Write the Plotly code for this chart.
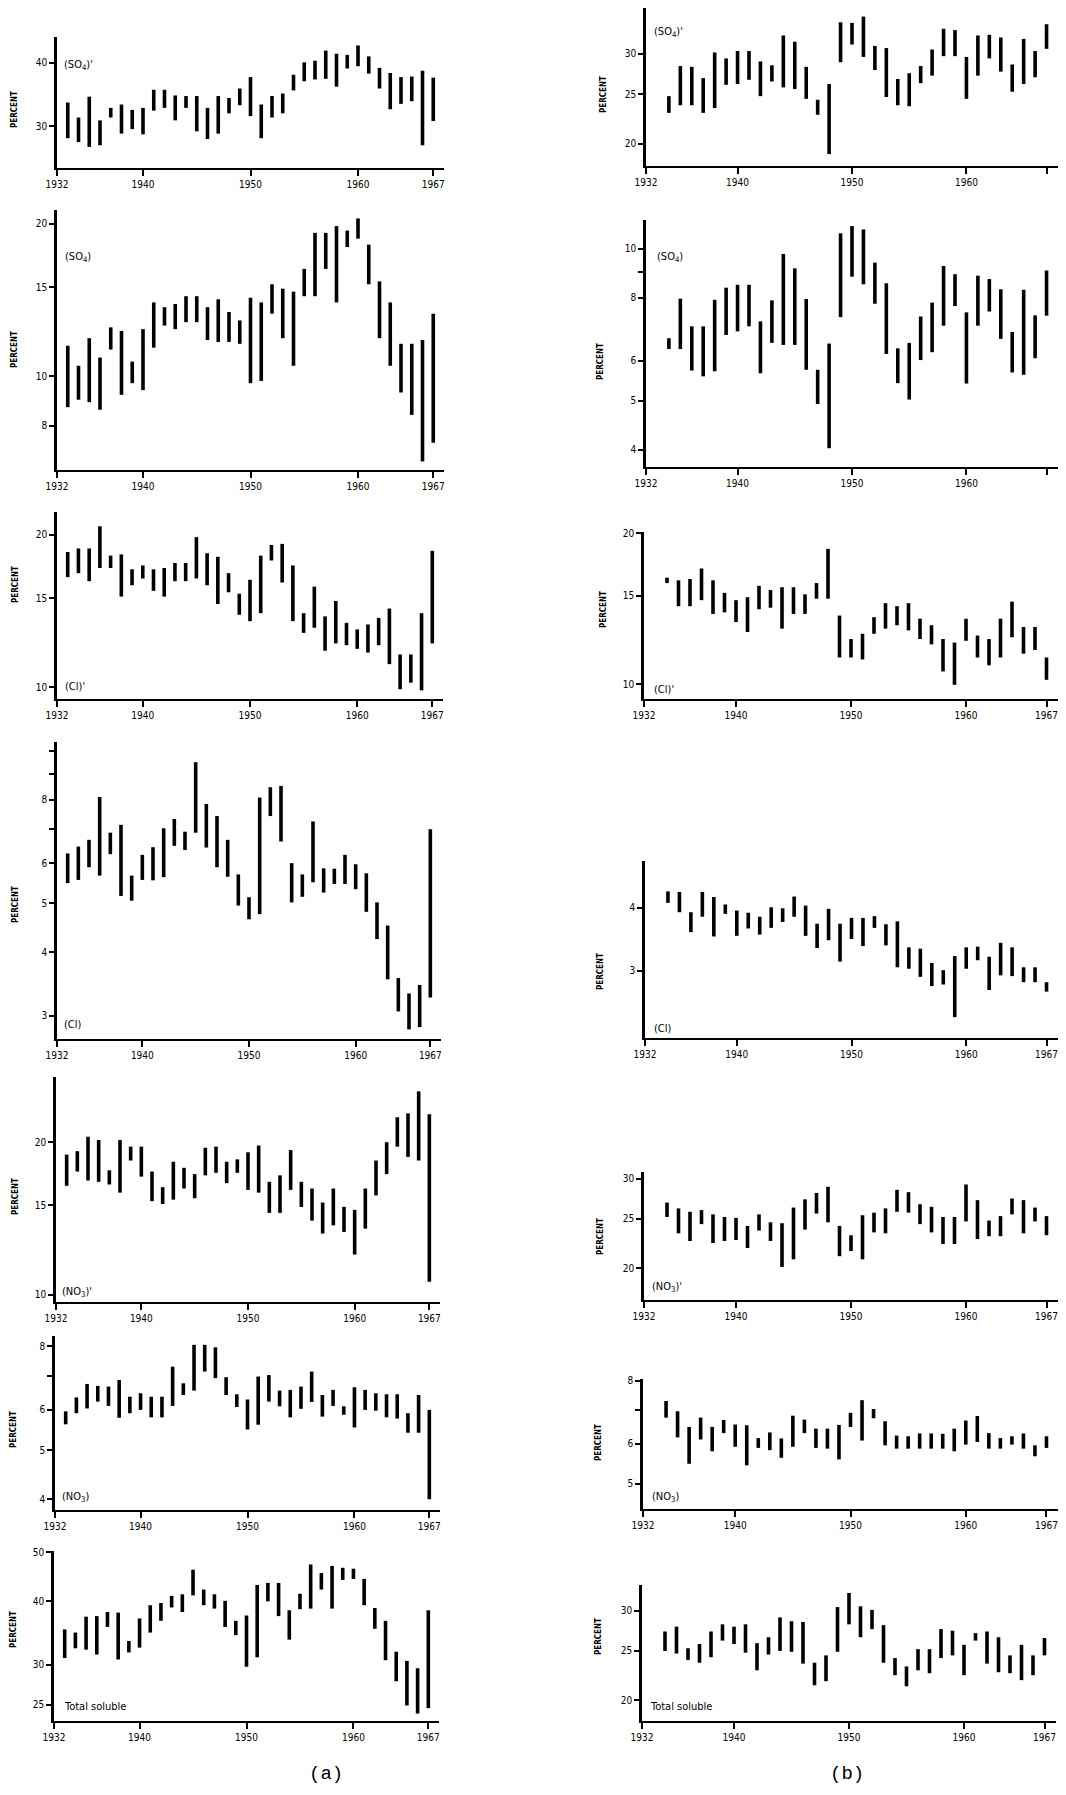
import math
import plotly.graph_objects as go

W, H = 1066, 1795          # browser window
OFF = 8                    # default page margin around the figure
FW, FH = W - 2 * OFF, H - 2 * OFF

# ---------------- data ----------------
years_a = list(range(1933, 1968))
years_b = list(range(1934, 1968))
x_ticks = [1932, 1940, 1950, 1960, 1967]

# column (a)
a_so4p_low = [28.4, 27.9, 27.3, 27.5, 31.2, 29.0, 29.6, 28.9, 32.2, 32.6, 30.8, 32.6, 29.3, 28.3, 29.0, 31.8, 33.0, 31.4,
              28.4, 31.2, 31.8, 35.3, 36.8, 37.1, 37.2, 35.9, 39.0, 39.4, 38.1, 35.6, 32.4, 33.2, 33.6, 27.5, 30.7]
a_so4p_high = [33.4, 31.2, 34.3, 30.8, 32.6, 33.1, 32.3, 32.6, 35.4, 35.4, 34.5, 34.4, 34.4, 32.6, 34.4, 34.1, 35.6, 37.5,
               33.1, 34.4, 34.8, 37.9, 40.1, 40.4, 42.3, 41.7, 41.5, 43.3, 41.2, 39.1, 38.2, 37.5, 37.6, 38.6, 37.4]

a_so4_low = [8.7, 9.0, 8.9, 8.6, 11.3, 9.2, 9.7, 9.4, 11.4, 12.6, 12.4, 12.8, 12.8, 11.8, 11.7, 11.7, 11.6, 9.7,
             9.8, 13.3, 11.9, 10.5, 14.4, 14.4, 16.3, 14.0, 18.0, 18.7, 15.2, 11.9, 10.5, 9.3, 8.4, 6.8, 7.4]
a_so4_high = [11.5, 10.5, 11.9, 10.9, 12.5, 12.3, 10.7, 12.4, 14.0, 13.7, 13.9, 14.4, 14.4, 13.7, 14.2, 13.4, 12.9, 14.3,
              14.0, 15.2, 14.9, 14.7, 16.3, 19.2, 19.2, 19.8, 19.4, 20.5, 18.2, 15.4, 14.0, 11.6, 11.6, 11.8, 13.3]

a_clp_low = [16.5, 16.8, 16.2, 17.2, 17.2, 15.1, 15.9, 16.4, 15.5, 15.1, 16.2, 16.2, 16.4, 15.9, 14.6, 15.4, 13.9, 13.5,
             14.0, 17.8, 16.1, 13.5, 12.8, 13.1, 11.8, 12.2, 12.1, 11.9, 11.7, 12.1, 11.1, 9.9, 10.2, 9.85, 12.2]
a_clp_high = [18.5, 18.8, 18.8, 20.8, 18.2, 18.3, 17.1, 17.4, 17.1, 17.2, 17.6, 17.6, 19.8, 18.4, 18.1, 16.8, 15.3, 16.3,
              18.2, 19.1, 19.2, 17.4, 14.0, 15.8, 13.8, 14.8, 13.4, 13.0, 13.3, 13.7, 14.3, 11.6, 11.6, 14.0, 18.6]

a_cl_low = [5.48, 5.56, 5.89, 5.67, 6.25, 5.17, 5.06, 5.56, 5.55, 5.63, 6.49, 6.37, 6.89, 6.44, 5.89, 5.64, 4.95, 4.65,
            4.76, 7.43, 6.62, 5.02, 5.15, 5.50, 5.25, 5.46, 5.46, 5.33, 4.81, 4.25, 3.54, 3.06, 2.82, 2.85, 3.26]
a_cl_high = [6.27, 6.47, 6.67, 8.10, 6.89, 7.14, 5.67, 6.23, 6.45, 7.03, 7.33, 6.92, 9.49, 7.85, 7.43, 6.67, 5.70, 5.14,
             8.08, 8.47, 8.52, 6.00, 5.70, 7.25, 5.86, 5.85, 6.23, 5.97, 5.73, 5.02, 4.52, 3.56, 3.32, 3.45, 7.00]

a_no3p_low = [16.4, 17.5, 16.8, 16.7, 16.5, 15.9, 18.4, 17.1, 15.3, 15.1, 15.4, 16.2, 15.5, 17.2, 17.4, 16.6, 17.4, 16.1,
              15.9, 14.5, 14.5, 16.1, 14.9, 14.0, 13.2, 13.7, 13.3, 12.0, 13.5, 15.7, 17.3, 19.6, 18.7, 18.4, 10.6]
a_no3p_high = [18.9, 19.2, 20.5, 20.2, 17.6, 20.2, 19.6, 19.6, 17.5, 16.3, 18.3, 17.8, 17.3, 19.5, 19.6, 18.3, 18.5, 19.1,
               19.7, 16.7, 17.2, 19.3, 16.7, 16.2, 15.2, 16.2, 14.9, 14.7, 16.2, 18.4, 20.0, 22.4, 22.8, 25.2, 22.7]

a_no3_low = [5.62, 5.91, 6.04, 6.23, 6.11, 5.79, 5.91, 6.00, 5.80, 5.80, 6.11, 6.42, 6.55, 7.14, 6.93, 6.42, 6.08, 5.49,
             5.61, 6.23, 6.10, 5.80, 6.03, 6.22, 5.82, 6.11, 5.87, 5.54, 6.00, 5.98, 5.80, 5.77, 5.41, 5.41, 4.00]
a_no3_high = [5.96, 6.35, 6.75, 6.69, 6.67, 6.87, 6.37, 6.47, 6.37, 6.37, 7.30, 6.77, 8.06, 8.06, 7.97, 6.96, 6.44, 6.29,
              6.98, 7.03, 6.55, 6.57, 6.67, 7.14, 6.42, 6.57, 6.10, 6.65, 6.57, 6.47, 6.44, 6.44, 5.91, 6.42, 6.00]

a_tot_low = [30.9, 32.3, 32.1, 31.4, 35.6, 30.7, 31.7, 32.4, 34.7, 36.6, 38.9, 38.1, 41.1, 39.3, 38.7, 35.6, 34.3, 29.7,
             31.0, 40.0, 37.4, 33.6, 38.6, 38.7, 42.2, 38.7, 44.1, 44.3, 39.3, 35.3, 30.6, 27.8, 24.9, 24.0, 24.6]
a_tot_high = [35.2, 34.7, 37.3, 37.4, 38.1, 38.0, 33.4, 37.0, 39.3, 39.7, 41.0, 41.3, 46.2, 42.2, 41.3, 40.1, 36.6, 37.5,
              43.1, 43.5, 43.5, 38.4, 41.4, 47.3, 45.5, 47.0, 46.6, 46.4, 44.3, 38.8, 36.6, 31.8, 30.5, 29.5, 38.4]

# column (b)
b_so4p_low = [23.0, 23.8, 23.8, 23.0, 23.5, 26.1, 26.2, 26.7, 24.8, 26.5, 25.8, 25.6, 24.5, 22.8, 19.1, 28.9, 31.3,
              29.6, 27.9, 24.7, 23.8, 23.7, 26.3, 27.2, 29.7, 29.7, 24.5, 27.2, 29.4, 27.7, 25.3, 26.2, 27.0, 30.7]
b_so4p_high = [24.8, 28.4, 28.3, 26.9, 30.2, 29.4, 30.4, 30.4, 29.0, 28.5, 32.6, 31.7, 28.3, 24.4, 26.2, 34.6, 34.5,
               35.5, 31.1, 30.8, 26.8, 27.5, 28.4, 30.6, 33.6, 33.4, 29.6, 32.6, 32.7, 32.3, 28.6, 32.1, 30.4, 34.3]

b_so4_low = [6.33, 6.33, 5.74, 5.59, 5.72, 6.75, 6.86, 7.02, 5.67, 6.51, 6.45, 6.45, 5.76, 4.93, 4.03, 7.32, 8.80,
             8.50, 7.78, 6.19, 5.42, 5.03, 6.02, 6.24, 7.04, 7.70, 5.41, 7.04, 7.51, 6.63, 5.69, 5.63, 6.07, 7.37]
b_so4_high = [6.65, 7.96, 7.02, 7.02, 7.92, 8.37, 8.48, 8.48, 7.18, 7.90, 9.76, 9.14, 7.95, 5.76, 6.49, 10.72, 11.08,
              10.91, 9.38, 8.54, 6.35, 6.51, 7.34, 7.82, 9.24, 8.90, 7.48, 8.84, 8.71, 8.31, 6.84, 8.29, 7.38, 9.05]

b_clp_low = [15.9, 14.3, 14.3, 14.7, 13.8, 13.9, 13.3, 12.7, 14.1, 14.2, 12.9, 13.8, 13.8, 14.8, 14.8, 11.3, 11.3,
             11.2, 12.6, 12.9, 13.1, 12.8, 12.3, 12.0, 10.6, 9.97, 12.2, 11.3, 10.9, 11.3, 12.4, 11.5, 11.7, 10.2]
b_clp_high = [16.3, 16.1, 16.2, 17.0, 16.1, 15.2, 14.7, 14.9, 15.7, 15.4, 15.6, 15.6, 15.1, 15.9, 18.6, 13.7, 12.3,
              12.6, 13.6, 14.5, 14.3, 14.5, 13.5, 13.1, 12.3, 12.1, 13.5, 12.5, 12.3, 13.5, 14.6, 13.0, 13.0, 11.3]

b_cl_low = [4.09, 3.92, 3.58, 3.84, 3.51, 3.89, 3.52, 3.64, 3.54, 3.65, 3.75, 3.84, 3.52, 3.33, 3.45, 3.13, 3.47,
            3.36, 3.65, 3.37, 3.05, 3.03, 2.92, 2.80, 2.82, 2.43, 3.03, 3.15, 2.75, 2.94, 2.93, 2.85, 2.85, 2.73]
b_cl_high = [4.31, 4.30, 3.92, 4.30, 4.20, 4.06, 3.95, 3.91, 3.84, 4.01, 3.99, 4.21, 4.04, 3.72, 3.98, 3.72, 3.82,
             3.82, 3.85, 3.71, 3.76, 3.34, 3.32, 3.11, 3.01, 3.21, 3.34, 3.35, 3.20, 3.41, 3.34, 3.05, 3.05, 2.85]

b_no3p_low = [25.2, 23.4, 22.6, 24.4, 22.4, 22.6, 22.7, 21.9, 23.7, 22.6, 20.1, 20.8, 23.8, 25.6, 24.6, 21.1, 21.6,
              20.8, 23.5, 23.4, 25.8, 25.7, 24.4, 23.5, 22.3, 22.3, 24.7, 22.8, 23.1, 23.1, 25.5, 23.4, 24.7, 23.2]
b_no3p_high = [26.9, 26.2, 25.8, 26.0, 25.5, 25.2, 25.1, 24.2, 25.5, 24.6, 24.5, 26.3, 27.3, 28.1, 28.9, 24.2, 23.2,
               25.4, 25.7, 26.2, 28.5, 28.2, 26.7, 26.4, 25.2, 25.2, 29.2, 27.2, 24.8, 25.3, 27.4, 27.2, 26.3, 25.3]

b_no3_low = [6.76, 6.18, 5.48, 6.12, 5.80, 6.30, 5.92, 5.44, 5.89, 5.83, 5.63, 5.92, 6.30, 5.89, 5.87, 5.59, 6.48,
             6.09, 6.74, 5.96, 5.87, 5.87, 5.87, 5.87, 5.87, 5.80, 5.98, 6.05, 5.87, 5.87, 5.98, 5.87, 5.67, 5.89]
b_no3_high = [7.29, 6.96, 6.48, 6.76, 6.48, 6.69, 6.55, 6.53, 6.16, 6.32, 6.15, 6.82, 6.70, 6.43, 6.43, 6.54, 6.91,
              7.32, 7.03, 6.65, 6.23, 6.21, 6.29, 6.29, 6.28, 6.43, 6.67, 6.81, 6.30, 6.16, 6.21, 6.29, 5.96, 6.21]

b_tot_low = [25.0, 24.7, 24.0, 23.7, 24.3, 26.2, 25.8, 24.8, 22.9, 24.6, 25.0, 24.9, 23.6, 21.4, 21.8, 24.9, 28.2,
             26.6, 27.6, 23.7, 22.4, 21.3, 22.9, 22.6, 24.2, 24.5, 22.4, 26.2, 23.6, 22.7, 22.6, 21.9, 22.4, 24.5]
b_tot_high = [27.3, 27.9, 25.3, 25.8, 27.3, 28.2, 27.9, 28.2, 25.9, 26.6, 29.1, 28.6, 28.5, 23.7, 24.5, 30.5, 32.5,
              30.6, 30.1, 28.1, 24.2, 23.3, 25.2, 25.2, 27.6, 27.4, 25.7, 27.1, 27.3, 26.6, 24.5, 25.7, 24.5, 26.5]

# ---------------- panel layout (page-pixel geometry) ----------------
# px: x pixel of 1932 and 1968; py: y pixel of top and bottom of plot area
# yr: y-axis value range (log); yt: labelled ticks; ym: unlabelled (minor) ticks
panels = [
    dict(yrs=years_a, lo=a_so4p_low, hi=a_so4p_high, lab="(SO<sub>4</sub>)'", yt=[30, 40], ym=[],
         yr=(24.8, 45.0), px=(57, 444), py=(37, 168), lp=(62, 65), tp=(15, 110)),
    dict(yrs=years_a, lo=a_so4_low, hi=a_so4_high, lab="(SO<sub>4</sub>)", yt=[8, 10, 15, 20], ym=[],
         yr=(6.54, 21.3), px=(57, 444), py=(210, 470), lp=(63, 257), tp=(15, 350)),
    dict(yrs=years_a, lo=a_clp_low, hi=a_clp_high, lab="(Cl)'", yt=[10, 15, 20], ym=[],
         yr=(9.47, 22.2), px=(57, 443), py=(512, 699), lp=(63, 687), tp=(15, 585)),
    dict(yrs=years_a, lo=a_cl_low, hi=a_cl_high, lab="(Cl)", yt=[3, 4, 5, 6, 8], ym=[7, 9, 10],
         yr=(2.70, 10.4), px=(57, 441), py=(742, 1039), lp=(62, 1025), tp=(15, 905)),
    dict(yrs=years_a, lo=a_no3p_low, hi=a_no3p_high, lab="(NO<sub>3</sub>)'", yt=[10, 15, 20], ym=[],
         yr=(9.67, 26.9), px=(56, 440), py=(1077, 1302), lp=(60, 1292), tp=(15, 1197)),
    dict(yrs=years_a, lo=a_no3_low, hi=a_no3_high, lab="(NO<sub>3</sub>)", yt=[4, 5, 6, 8], ym=[7],
         yr=(3.81, 8.39), px=(55, 440), py=(1336, 1510), lp=(60, 1497), tp=(13, 1430)),
    dict(yrs=years_a, lo=a_tot_low, hi=a_tot_high, lab="Total soluble", yt=[25, 30, 40, 50], ym=[],
         yr=(23.2, 50.3), px=(54, 439), py=(1551, 1721), lp=(62, 1706), tp=(13, 1630)),
    dict(yrs=years_b, lo=b_so4p_low, hi=b_so4p_high, lab="(SO<sub>4</sub>)'", yt=[20, 25, 30], ym=[],
         yr=(18.1, 36.9), px=(646, 1063), py=(8, 166), lp=(652, 32), tp=(603, 95)),
    dict(yrs=years_b, lo=b_so4_low, hi=b_so4_high, lab="(SO<sub>4</sub>)", yt=[4, 5, 6, 8, 10], ym=[9],
         yr=(3.70, 11.39), px=(646, 1063), py=(220, 467), lp=(655, 257), tp=(600, 362)),
    dict(yrs=years_b, lo=b_clp_low, hi=b_clp_high, lab="(Cl)'", yt=[10, 15, 20], ym=[],
         yr=(9.34, 20.1), px=(644, 1062), py=(532, 699), lp=(652, 690), tp=(603, 610)),
    dict(yrs=years_b, lo=b_cl_low, hi=b_cl_high, lab="(Cl)", yt=[3, 4], ym=[],
         yr=(2.21, 4.95), px=(645, 1061), py=(861, 1038), lp=(652, 1028), tp=(600, 972)),
    dict(yrs=years_b, lo=b_no3p_low, hi=b_no3p_high, lab="(NO<sub>3</sub>)'", yt=[20, 25, 30], ym=[],
         yr=(17.3, 30.9), px=(644, 1060), py=(1172, 1300), lp=(650, 1287), tp=(600, 1237)),
    dict(yrs=years_b, lo=b_no3_low, hi=b_no3_high, lab="(NO<sub>3</sub>)", yt=[5, 6, 8], ym=[7],
         yr=(4.46, 8.06), px=(643, 1059), py=(1379, 1509), lp=(650, 1497), tp=(598, 1443)),
    dict(yrs=years_b, lo=b_tot_low, hi=b_tot_high, lab="Total soluble", yt=[20, 25, 30], ym=[],
         yr=(18.2, 33.7), px=(642, 1056), py=(1585, 1721), lp=(648, 1706), tp=(598, 1637)),
]


def fx(px):
    """page pixel x -> paper fraction"""
    return (px - OFF) / FW


def fy(py):
    """page pixel y -> paper fraction (from bottom)"""
    return 1 - (py - OFF) / FH


FONT = "Liberation Sans Narrow, DejaVu Sans Condensed, Liberation Sans, sans-serif"

fig = go.Figure()
layout = {}
annotations = []

for i, p in enumerate(panels, start=1):
    sfx = "" if i == 1 else str(i)
    xs, ys = [], []
    for yr_, lo_, hi_ in zip(p["yrs"], p["lo"], p["hi"]):
        xs += [yr_, yr_, None]
        ys += [lo_, hi_, None]
    fig.add_trace(go.Scatter(x=xs, y=ys, mode="lines",
                             line=dict(color="black", width=3.6),
                             xaxis="x" + sfx, yaxis="y" + sfx,
                             hoverinfo="skip", showlegend=False))
    layout["xaxis" + sfx] = dict(
        domain=[max(0.0, fx(p["px"][0])), min(1.0, fx(p["px"][1]))], range=[1932, 1968], anchor="y" + sfx,
        automargin=False,
        tickvals=x_ticks, ticktext=[str(v) for v in x_ticks],
        ticks="outside", ticklen=6, tickwidth=2, tickcolor="black",
        showline=True, linewidth=2, linecolor="black",
        showgrid=False, zeroline=False,
        tickfont=dict(size=10, family=FONT, color="black"))
    ydict = dict(
        domain=[max(0.0, fy(p["py"][1])), min(1.0, fy(p["py"][0]))], type="log",
        range=[math.log10(p["yr"][0]), math.log10(p["yr"][1])], anchor="x" + sfx,
        automargin=False,
        tickvals=p["yt"], ticktext=[str(v) for v in p["yt"]],
        ticks="outside", ticklen=5, tickwidth=1.5, tickcolor="black",
        showline=True, linewidth=2.6, linecolor="black",
        showgrid=False, zeroline=False,
        tickfont=dict(size=10, family=FONT, color="black"))
    if p["ym"]:
        ydict["minor"] = dict(tickvals=p["ym"], ticks="outside", ticklen=5, tickwidth=1.5,
                              tickcolor="black", showgrid=False)
    layout["yaxis" + sfx] = ydict
    annotations.append(dict(x=fx(p["lp"][0]), y=fy(p["lp"][1]), xref="paper", yref="paper",
                            text=p["lab"], showarrow=False, xanchor="left", yanchor="middle",
                            font=dict(size=11, family=FONT, color="black")))
    annotations.append(dict(x=fx(p["tp"][0]), y=fy(p["tp"][1]), xref="paper", yref="paper",
                            text="<b>PERCENT</b>", textangle=-90, showarrow=False,
                            xanchor="center", yanchor="middle",
                            font=dict(size=8, family=FONT, color="black")))

annotations.append(dict(x=fx(326), y=fy(1774), xref="paper", yref="paper", text="(a)",
                        xanchor="center", yanchor="middle", showarrow=False,
                        font=dict(size=19, family="Liberation Mono, monospace", color="black")))
annotations.append(dict(x=fx(847), y=fy(1774), xref="paper", yref="paper", text="(b)",
                        xanchor="center", yanchor="middle", showarrow=False,
                        font=dict(size=19, family="Liberation Mono, monospace", color="black")))

fig.update_layout(width=FW, height=FH, margin=dict(l=0, r=0, t=0, b=0, autoexpand=False),
                  paper_bgcolor="white", plot_bgcolor="white",
                  showlegend=False, annotations=annotations, **layout)

fig.write_html("out.html")
